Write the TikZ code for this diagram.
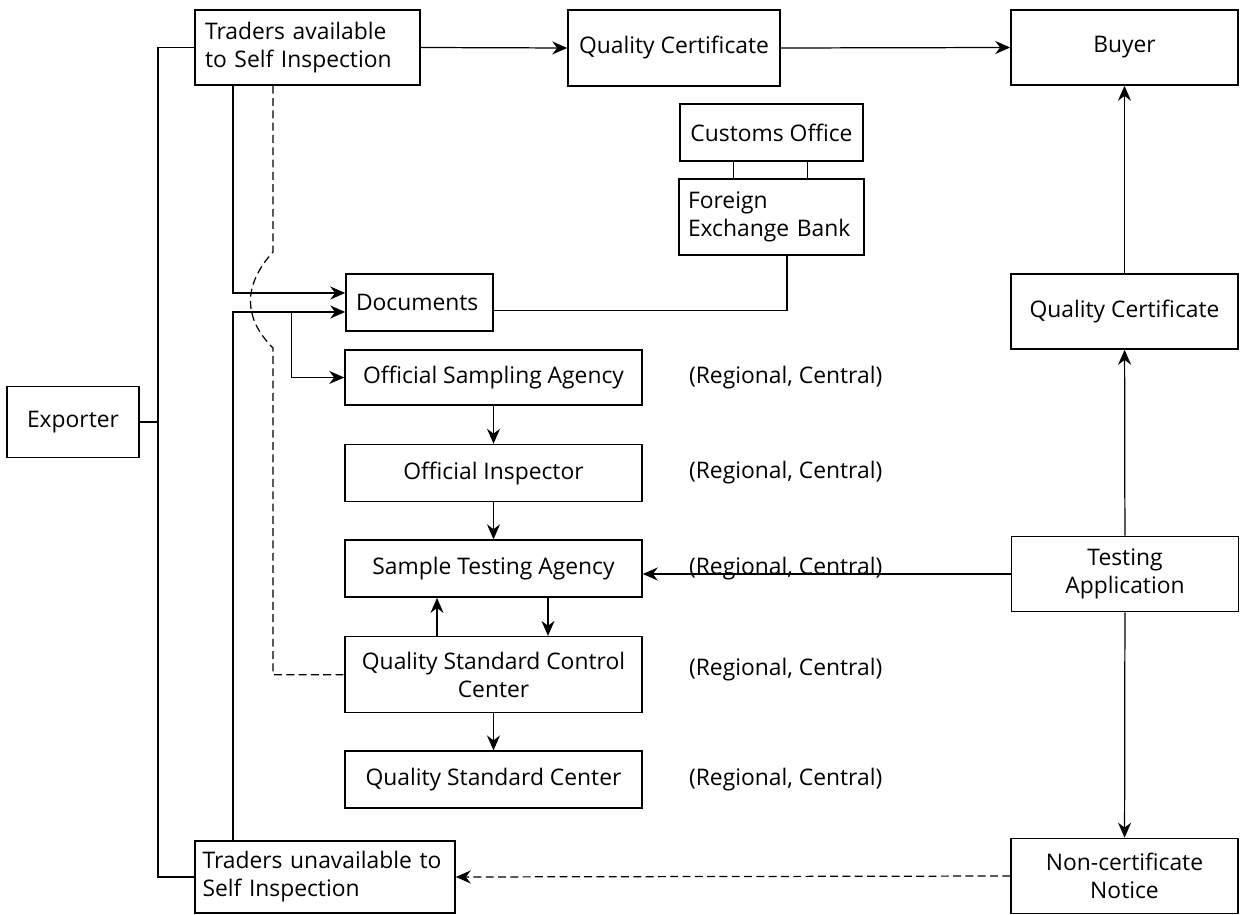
\documentclass[tikz,border=0pt]{standalone}
\usepackage{fontspec}
\setmainfont{Open Sans}
\usetikzlibrary{arrows,arrows.meta,positioning,calc}

\begin{document}
\begin{tikzpicture}[x=0.02cm, y=-0.02cm, auto]

% Define styles
\tikzstyle{box} = [rectangle, draw=black, line width=0.9pt, align=center, inner sep=0.2cm, font=\fontsize{13}{16}\selectfont]
\tikzstyle{leftbox} = [rectangle, draw=black, line width=0.9pt, align=left, inner sep=0.2cm, font=\fontsize{13}{16}\selectfont]
\tikzstyle{office} = [box, minimum width=5.94cm, minimum height=1.14cm]
\tikzstyle{side} = [box, minimum width=4.54cm, minimum height=1.5cm]
\tikzstyle{level} = [inner sep=0pt, font=\fontsize{13}{16}\selectfont]
\tikzstyle{arrow} = [line width=0.7pt, -{Stealth[length=3mm, width=2.6mm]}]
\tikzstyle{line} = [line width=0.7pt, draw=black]
\tikzstyle{dashline} = [line width=0.7pt, dash pattern=on 4.5pt off 2.5pt]

\useasboundingbox (0,0) rectangle (1245,915);

% Exporter and traders
\node (exporter) [box, minimum width=2.64cm, minimum height=1.42cm] at (73,422) {Exporter};
\node (avail) [leftbox, text width=4.1cm, minimum height=1.5cm] at (307.5,47.5) {Traders available\\to Self Inspection};
\node (unavail) [leftbox, inner xsep=0.15cm, text width=4.9cm, minimum height=1.44cm] at (325,877) {Traders unavailable to\\Self Inspection};

% Top row
\node (qcert) [box, minimum width=4.24cm, minimum height=1.52cm] at (674,48) {Quality Certificate};
\node (buyer) [side] at (1124.5,47.5) {Buyer};
\node (customs) [box, minimum width=3.66cm, minimum height=1.14cm] at (771.5,132.5) {Customs Office};
\node (bank) [leftbox, inner xsep=0.18cm, text width=3.34cm, minimum height=1.52cm] at (771.5,217) {Foreign\\Exchange Bank};
\node (docs) [leftbox, text width=2.54cm, minimum height=1.14cm] at (419.5,302.5) {Documents};

% Inspection chain
\node (sampling) [office, minimum height=1.1cm] at (493.5,377.5) {Official Sampling Agency};
\node (inspector) [office, below=0.76cm of sampling] {Official Inspector};
\node (testing) [office, below=0.74cm of inspector] {Sample Testing Agency};
\node (control) [office, minimum height=1.52cm, below=0.76cm of testing] {Quality Standard Control\\Center};
\node (standard) [office, below=0.74cm of control] {Quality Standard Center};

% Levels
\node (lvsampling) [level, anchor=west, right=0.92cm of sampling] {(Regional, Central)};
\node (lvinspector) [level, anchor=west, right=0.92cm of inspector] {(Regional, Central)};
\node (lvtesting) [level, anchor=west, right=0.92cm of testing] {(Regional, Central)};
\node (lvcontrol) [level, anchor=west, right=0.92cm of control, yshift=0.1cm] {(Regional, Central)};
\node (lvstandard) [level, anchor=west, right=0.92cm of standard] {(Regional, Central)};

% Right column
\node (qcert2) [side] at (1124.5,311.5) {Quality Certificate};
\node (testapp) [side] at (1125,574) {Testing\\Application};
\node (notice) [side] at (1124.5,876) {Non-certificate\\Notice};

% Exporter trunk
\coordinate (trunk) at (158,422);
\draw [line] (exporter.east) -- (trunk);
\draw [line] (avail.west) -| (trunk) |- (unavail.west);

% Certificate flow
\draw [arrow] (avail.east) -- (qcert.west);
\draw [arrow] (qcert.east) -- (buyer.west);
\draw [arrow] (qcert2) -- (buyer);
\draw [arrow] (testapp) -- (qcert2);
\draw [arrow] (testapp) -- (notice);
\draw [arrow, dashline] (notice.west) -- (unavail.east);
\draw [arrow] (testapp.west) -- (testapp.west -| testing.east);

% Customs and bank
\draw [line] ([xshift=-0.76cm]customs.south) -- ([xshift=-0.76cm]bank.north);
\draw [line] ([xshift=0.72cm]customs.south) -- ([xshift=0.72cm]bank.north);
\draw [line] ([xshift=0.31cm]bank.south) |- ([yshift=-0.16cm]docs.east);

% Documents
\draw [arrow] ([xshift=-1.49cm]avail.south) |- ([yshift=0.19cm]docs.west);
\draw [arrow] ([xshift=-1.84cm]unavail.north) |- ([yshift=-0.19cm]docs.west);
\draw [arrow] ([yshift=-0.19cm]docs.west) ++(-54,0) |- (sampling.west);

% Chain arrows
\draw [arrow] (sampling) -- (inspector);
\draw [arrow] (inspector) -- (testing);
\draw [arrow] ([xshift=-1.13cm]control.north) -- ([xshift=-1.13cm]testing.south);
\draw [arrow] ([xshift=1.09cm]testing.south) -- ([xshift=1.09cm]control.north);
\draw [arrow] (control) -- (standard);

% Dashed bypass
\coordinate (bumptop) at (273,252);
\coordinate (bumpbot) at (273,348);
\draw [dashline] ([xshift=-0.69cm]avail.south) -- (bumptop) .. controls (243,285) and (243,318) .. (bumpbot) |- (control.west);

\end{tikzpicture}
\end{document}
